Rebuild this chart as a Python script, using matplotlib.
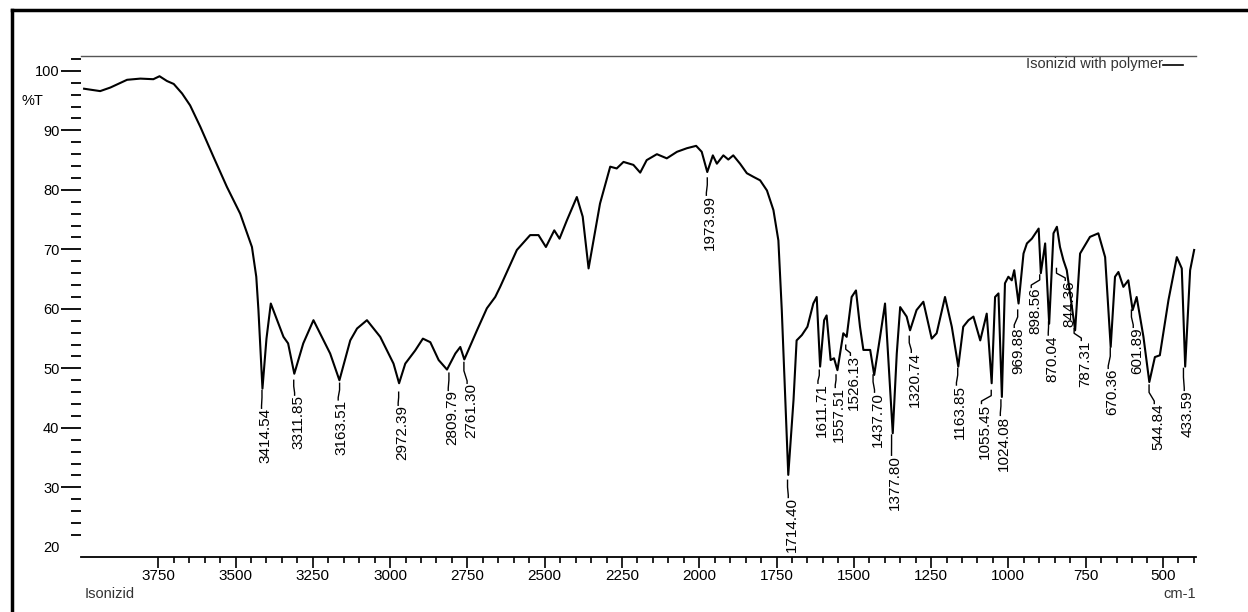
import matplotlib
matplotlib.use("Agg")
import matplotlib.pyplot as plt
from matplotlib.lines import Line2D
from matplotlib.ticker import MultipleLocator, FixedLocator

plt.rcParams['font.family'] = ['Liberation Sans', 'DejaVu Sans']

# spectrum (wavenumber cm-1, %T)
wavenumber = [3990, 3938, 3905, 3851, 3808, 3766, 3746, 3722, 3700, 3673, 3647, 3614,
              3571, 3528, 3485, 3447, 3433, 3426, 3413, 3400, 3386, 3345, 3330, 3310,
              3281, 3248, 3194, 3164, 3129, 3107, 3075, 3032, 2989, 2971, 2951, 2919,
              2894, 2870, 2843, 2816, 2789, 2773, 2760, 2719, 2687, 2660, 2644, 2590,
              2547, 2520, 2496, 2469, 2452, 2428, 2396, 2377, 2358, 2342, 2321, 2288,
              2267, 2245, 2213, 2191, 2170, 2137, 2105, 2072, 2040, 2010, 1992, 1974,
              1956, 1943, 1922, 1906, 1890, 1868, 1846, 1825, 1803, 1781, 1760, 1744,
              1733, 1712, 1695, 1685, 1668, 1650, 1631, 1620, 1609, 1596, 1588, 1575,
              1564, 1553, 1534, 1523, 1507, 1493, 1480, 1469, 1447, 1434, 1415, 1399,
              1374, 1361, 1350, 1329, 1318, 1297, 1275, 1248, 1232, 1205, 1183, 1162,
              1146, 1129, 1113, 1091, 1070, 1054, 1043, 1032, 1021, 1011, 1000, 989,
              981, 967, 951, 940, 924, 902, 895, 881, 868, 854, 843, 833, 822, 811,
              784, 768, 736, 709, 687, 669, 655, 644, 628, 612, 598, 585, 563, 544,
              526, 510, 482, 455, 439, 428, 412, 399]
transmittance = [97.0, 96.6, 97.2, 98.5, 98.7, 98.6, 99.1, 98.3, 97.8, 96.2, 94.2, 90.6,
                 85.5, 80.5, 76.0, 70.4, 65.4, 59.8, 46.6, 55.0, 60.9, 55.3, 54.2, 49.1,
                 54.2, 58.1, 52.5, 48.0, 54.7, 56.7, 58.1, 55.3, 50.8, 47.5, 50.8, 53.0,
                 55.0, 54.4, 51.4, 49.8, 52.5, 53.6, 51.5, 56.4, 60.1, 62.0, 63.7, 69.9,
                 72.4, 72.4, 70.4, 73.2, 71.8, 74.9, 78.8, 75.5, 66.8, 71.5, 77.7, 83.9,
                 83.6, 84.7, 84.2, 82.9, 85.0, 86.0, 85.3, 86.4, 87.0, 87.4, 86.4, 83.0,
                 85.8, 84.4, 85.8, 85.1, 85.8, 84.4, 82.8, 82.2, 81.6, 79.9, 76.6, 71.5,
                 59.8, 32.1, 44.7, 54.7, 55.6, 57.0, 60.9, 62.0, 50.3, 58.1, 58.9, 51.4,
                 51.7, 49.7, 55.9, 55.3, 62.0, 63.1, 57.0, 53.1, 53.1, 48.9, 55.3, 60.9,
                 39.1, 52.5, 60.3, 58.7, 56.4, 59.8, 61.2, 55.0, 55.9, 62.0, 57.0, 50.3,
                 57.0, 58.1, 58.7, 54.7, 59.2, 47.5, 62.0, 62.6, 45.2, 64.3, 65.4, 64.8,
                 66.5, 60.9, 69.3, 71.0, 71.8, 73.5, 66.0, 71.0, 57.5, 72.7, 73.8, 70.4,
                 68.2, 66.5, 56.4, 69.3, 72.1, 72.7, 68.7, 53.6, 65.4, 66.2, 63.7, 64.8,
                 59.8, 62.0, 55.3, 47.7, 51.9, 52.2, 61.5, 68.7, 66.8, 50.3, 66.5, 69.9]

# peak picks
peak_wn = [3414.54, 3311.85, 3163.51, 2972.39, 2809.79, 2761.30, 1973.99, 1714.40,
           1611.71, 1557.51, 1526.13, 1437.70, 1377.80, 1320.74, 1163.85, 1055.45,
           1024.08, 969.88, 898.56, 870.04, 844.36, 787.31, 670.36, 601.89, 544.84, 433.59]
lead_top = [46.3, 48.0, 47.5, 46.0, 49.2, 51.0, 82.0, 31.2, 49.7, 48.9, 53.9, 48.9, 38.8,
            55.4, 50.0, 46.3, 44.7, 59.8, 65.7, 57.8, 66.8, 56.7, 53.4, 59.8, 47.2, 50.0]
text_top = [43.3, 45.5, 44.7, 43.8, 46.3, 47.5, 79.1, 28.3, 47.5, 46.8, 52.2, 46.0, 35.4,
            52.7, 47.2, 44.1, 42.1, 56.9, 63.6, 55.6, 64.8, 54.7, 50.0, 56.9, 44.1, 46.3]
text_x = [3404, 3297, 3156, 2962, 2800, 2739, 1965, 1700, 1604, 1548, 1499, 1421, 1366,
          1302, 1156, 1075, 1014, 969, 914, 859, 804, 752, 665, 584, 516, 419]

fig = plt.figure(figsize=(12.48, 6.12), dpi=100)
ax = fig.add_axes([81 / 1248, 1 - 557 / 612, (1196 - 81) / 1248, (557 - 56) / 612])

ax.plot(wavenumber, transmittance, color='black', lw=1.5)

for wn, lt, tt, tx in zip(peak_wn, lead_top, text_top, text_x):
    mid = lt - (lt - tt) * 0.4
    ax.plot([wn, wn, tx + 12, tx + 12], [lt, mid, tt + 0.4, tt], color='black', lw=1.0)
    ax.text(tx, tt, f"{wn:.2f}", rotation=90, ha='center', va='top', fontsize=11)

ax.set_xlim(4000, 393)
ax.set_ylim(18.3, 102.5)

for s in ['left', 'right']:
    ax.spines[s].set_visible(False)
ax.spines['top'].set_color('#555555')
ax.spines['top'].set_linewidth(1.0)
ax.spines['bottom'].set_linewidth(1.3)

ax.xaxis.set_major_locator(FixedLocator([3750, 3500, 3250, 3000, 2750, 2500, 2250,
                                         2000, 1750, 1500, 1250, 1000, 750, 500]))
ax.xaxis.set_minor_locator(FixedLocator(list(range(400, 3751, 50))))
ax.tick_params(axis='x', which='major', direction='out', length=8, width=1.2,
               labelsize=11, pad=1)
ax.tick_params(axis='x', which='minor', direction='out', length=4.5, width=1.2)

ax.yaxis.set_major_locator(MultipleLocator(10))
ax.set_yticks(list(range(20, 101, 10)))
ax.yaxis.set_minor_locator(FixedLocator(list(range(22, 103, 2))))
ax.tick_params(axis='y', which='major', direction='out', length=14.5, width=1.3,
               labelsize=10.5, pad=1)
ax.tick_params(axis='y', which='minor', direction='out', length=7, width=1.3)
ax.yaxis.get_major_ticks()[0].tick1line.set_visible(False)

ax.text(-0.034, 95.0, "%T", transform=ax.get_yaxis_transform(), ha='right',
        va='center', fontsize=10.5)

# legend entry and captions
fig.text(1163 / 1248, 1 - 64 / 612, "Isonizid with polymer", ha='right', va='center',
         fontsize=10.5, color='#333333')
fig.add_artist(Line2D([1163 / 1248, 1183 / 1248], [1 - 65 / 612, 1 - 65 / 612],
                      color='black', lw=1.2))
fig.text(85 / 1248, 1 - 594 / 612, "Isonizid", ha='left', va='center', fontsize=10.5,
         color='#333333')
fig.text(1196 / 1248, 1 - 594 / 612, "cm-1", ha='right', va='center', fontsize=10.5,
         color='#333333')

# outer frame (left and top edges visible)
fig.add_artist(Line2D([12 / 1248, 12 / 1248], [0, 1 - 10 / 612], color='black', lw=2.5))
fig.add_artist(Line2D([12 / 1248, 1], [1 - 10 / 612, 1 - 10 / 612], color='black', lw=2.5))

fig.savefig("out.png", dpi=100)
